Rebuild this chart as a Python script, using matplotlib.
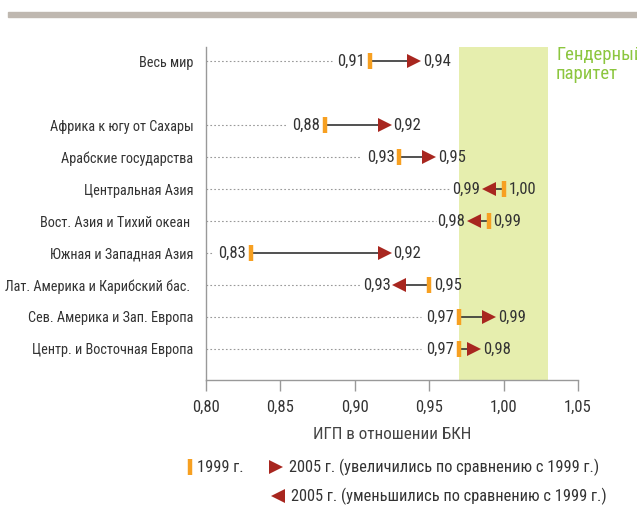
import matplotlib.pyplot as plt
from matplotlib import font_manager
from matplotlib.patches import Rectangle

regions = ["Весь мир",
           "Африка к югу от Сахары",
           "Арабские государства",
           "Центральная Азия",
           "Вост. Азия и Тихий океан ",
           "Южная и Западная Азия",
           "Лат. Америка и Карибский бас. ",
           "Сев. Америка и Зап. Европа",
           "Центр. и Восточная Европа"]
ypos = [0, 2, 3, 4, 5, 6, 7, 8, 9]
gpi_1999 = [0.91, 0.88, 0.93, 1.00, 0.99, 0.83, 0.95, 0.97, 0.97]
gpi_2005 = [0.94, 0.92, 0.95, 0.99, 0.98, 0.92, 0.93, 0.99, 0.98]
xticks = [0.80, 0.85, 0.90, 0.95, 1.00, 1.05]

# narrow font if there is one, otherwise Roboto
names = {f.name for f in font_manager.fontManager.ttflist}
font = 'Roboto'
for cand in ['Roboto Condensed', 'Liberation Sans Narrow', 'Open Sans Condensed',
             'Noto Sans Condensed', 'DejaVu Sans Condensed']:
    if cand in names:
        font = cand
        break
k = 1.0 if font != 'Roboto' else 0.9
plt.rcParams['font.family'] = [font, 'DejaVu Sans']
fs_lab = 10.3 * k
fs_val = 12.0 * k
fs_leg = 11.8 * k

orange = '#f7a021'
red = '#a8261f'
txt = '#333333'
green_band = '#e6eeae'
green_txt = '#8cc63f'

W, H = 637, 505
fig = plt.figure(figsize=(W / 100, H / 100), dpi=100)
ax = fig.add_axes([206 / W, 1 - 380 / H, (578 - 206) / W, (380 - 47) / H])
ax.set_xlim(0.80, 1.05)
ax.set_ylim(9.97, -0.44)

# top decorative bar
fig.patches.append(Rectangle((8 / W, 1 - 17 / H), 1, 5 / H, transform=fig.transFigure,
                             color='#bfb8b0', zorder=0))

# gender parity band
ax.axvspan(0.97, 1.03, color=green_band, zorder=0, lw=0)
fig.text(556 / W, 1 - 46 / H, "Гендерный\nпаритет", color=green_txt, fontsize=13.5 * k,
         va='top', ha='left', linespacing=1.1)

px = 0.25 / (578 - 206)  # data units per pixel
for y, a, b in zip(ypos, gpi_1999, gpi_2005):
    lo = min(a, b)
    ax.plot([0.80, lo - 38 * px], [y, y], color='#999999', ls=(0, (1.5, 2)), lw=0.8, zorder=1)
    ax.plot([a, b], [y, y], color=txt, lw=1.2, zorder=2)
    ax.plot(b, y, marker='>' if b > a else '<', color=red, ms=10, mew=0, zorder=3)
    ax.plot(a, y, marker='|', color=orange, ms=12, mew=3.2, zorder=4)
    la = f"{a:.2f}".replace('.', ',')
    lb = f"{b:.2f}".replace('.', ',')
    if b > a:
        ax.annotate(la, (a, y), xytext=(-3.5, 0), textcoords='offset points',
                    ha='right', va='center', fontsize=fs_val, color=txt)
        ax.annotate(lb, (b, y), xytext=(6.5, 0), textcoords='offset points',
                    ha='left', va='center', fontsize=fs_val, color=txt)
    else:
        ax.annotate(lb, (b, y), xytext=(-6.5, 0), textcoords='offset points',
                    ha='right', va='center', fontsize=fs_val, color=txt)
        ax.annotate(la, (a, y), xytext=(3.5, 0), textcoords='offset points',
                    ha='left', va='center', fontsize=fs_val, color=txt)

ax.set_yticks(ypos)
ax.set_yticklabels(regions, fontsize=fs_lab, color=txt)
ax.tick_params(axis='y', length=0, pad=9)
ax.set_xticks(xticks)
ax.set_xticklabels([f"{v:.2f}".replace('.', ',') for v in xticks], fontsize=fs_val, color=txt)
ax.tick_params(axis='x', length=8, width=1, color='#999999', pad=6)
ax.set_xlabel("ИГП в отношении БКН", fontsize=12.3 * k, color='#444444', labelpad=9)

for s in ['top', 'right']:
    ax.spines[s].set_visible(False)
for s in ['left', 'bottom']:
    ax.spines[s].set_color('#999999')
    ax.spines[s].set_linewidth(1)

# legend
def fx(x):
    return x / W

def fy(y):
    return 1 - y / H

fig.lines.append(plt.Line2D([fx(190)], [fy(467)], marker='|', color=orange, ms=12, mew=3.2,
                            transform=fig.transFigure))
fig.text(fx(197), fy(467), "1999 г.", fontsize=fs_leg, color=txt, va='center')
fig.lines.append(plt.Line2D([fx(276)], [fy(467)], marker='>', color=red, ms=10, mew=0,
                            transform=fig.transFigure))
fig.text(fx(289), fy(467), "2005 г. (увеличились по сравнению с 1999 г.)", fontsize=fs_leg,
         color=txt, va='center')
fig.lines.append(plt.Line2D([fx(278)], [fy(496)], marker='<', color=red, ms=10, mew=0,
                            transform=fig.transFigure))
fig.text(fx(291), fy(496), "2005 г. (уменьшились по сравнению с 1999 г.)", fontsize=fs_leg,
         color=txt, va='center')

fig.savefig("out.png", dpi=100)
